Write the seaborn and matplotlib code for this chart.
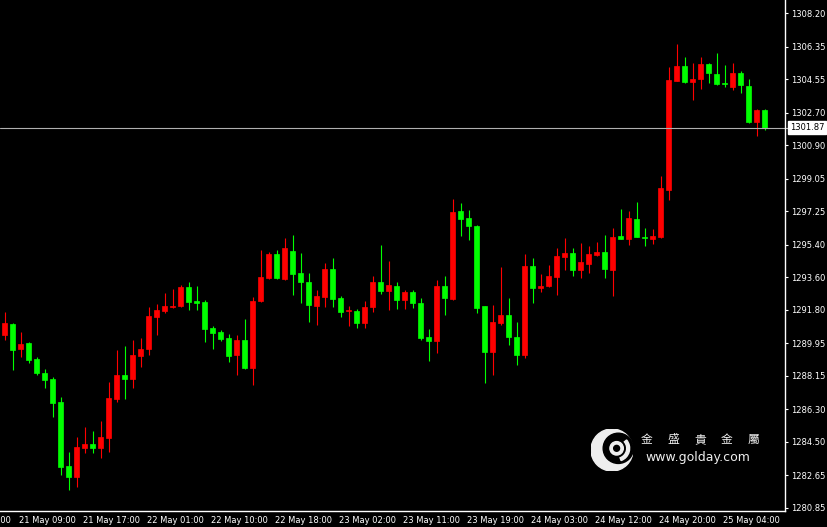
"""H1 gold candlestick chart, MT4 style (black background)."""

import matplotlib
matplotlib.use("Agg")
import matplotlib.pyplot as plt
import matplotlib.transforms as mtransforms
from matplotlib.patches import Circle, Wedge
import numpy as np
import seaborn as sns

# candle data, one entry per hourly bar (left to right)
opens = [1290.41, 1291.02, 1289.64, 1289.97, 1289.09, 1288.31, 1287.98, 1286.71,
         1283.17, 1282.57, 1284.17, 1284.39, 1284.17, 1284.72, 1286.88, 1288.20,
         1287.98, 1289.25, 1289.64, 1291.41, 1291.74, 1291.96, 1292.01, 1293.06,
         1292.29, 1292.23, 1290.80, 1290.58, 1290.25, 1289.31, 1290.14, 1288.59,
         1292.29, 1293.56, 1294.89, 1293.51, 1295.05, 1293.84, 1293.34, 1292.01,
         1292.51, 1294.06, 1292.46, 1291.74, 1291.74, 1291.07, 1291.96, 1293.34,
         1292.84, 1293.12, 1292.35, 1292.79, 1292.18, 1290.30, 1290.08, 1293.12,
         1292.40, 1297.26, 1296.88, 1296.43, 1292.01, 1289.47, 1291.07, 1291.52,
         1290.30, 1289.31, 1294.22, 1293.01, 1293.12, 1293.62, 1294.72, 1294.94,
         1294.00, 1294.33, 1294.83, 1295.00, 1294.00, 1295.88, 1295.72, 1296.82,
         1295.83, 1295.72, 1295.83, 1298.42, 1304.45, 1305.27, 1304.39, 1304.56,
         1305.38, 1304.83, 1304.33, 1304.11, 1304.89, 1304.17, 1302.18, 1302.84]
highs = [1291.68, 1291.07, 1290.58, 1290.02, 1289.20, 1288.53, 1288.09, 1286.99,
         1283.95, 1284.78, 1285.33, 1285.11, 1285.66, 1287.81, 1289.58, 1289.80,
         1290.14, 1290.25, 1291.96, 1292.12, 1292.73, 1292.95, 1293.17, 1293.34,
         1293.12, 1292.35, 1290.91, 1290.69, 1290.47, 1290.41, 1291.30, 1292.51,
         1295.11, 1295.00, 1295.11, 1295.77, 1295.94, 1294.94, 1293.84, 1292.90,
         1294.39, 1294.67, 1292.57, 1292.01, 1291.85, 1292.29, 1293.67, 1295.38,
         1294.50, 1293.34, 1292.90, 1292.90, 1292.46, 1290.74, 1293.45, 1293.67,
         1297.93, 1297.70, 1297.32, 1296.49, 1292.01, 1292.07, 1294.17, 1292.46,
         1291.13, 1294.89, 1294.67, 1293.78, 1294.28, 1295.22, 1295.77, 1295.22,
         1295.49, 1295.33, 1295.55, 1295.94, 1296.32, 1297.37, 1297.26, 1297.76,
         1296.32, 1296.27, 1299.20, 1305.22, 1306.49, 1305.77, 1305.44, 1305.77,
         1305.44, 1305.99, 1305.33, 1305.44, 1305.00, 1304.56, 1302.87, 1302.87]
lows = [1290.14, 1288.48, 1289.20, 1288.86, 1288.20, 1287.48, 1285.88, 1282.68,
        1281.85, 1282.01, 1283.89, 1283.89, 1283.62, 1283.95, 1286.71, 1286.88,
        1287.48, 1288.64, 1289.31, 1290.41, 1291.63, 1291.90, 1291.96, 1291.79,
        1291.79, 1290.02, 1289.64, 1290.08, 1288.92, 1288.20, 1288.55, 1287.65,
        1292.25, 1293.51, 1293.51, 1293.45, 1292.62, 1292.18, 1291.13, 1290.96,
        1291.96, 1291.96, 1291.41, 1290.91, 1290.80, 1290.80, 1291.68, 1292.68,
        1291.79, 1291.85, 1291.85, 1291.90, 1290.14, 1288.98, 1289.42, 1291.52,
        1292.35, 1295.88, 1295.66, 1291.63, 1287.76, 1288.20, 1290.96, 1289.86,
        1288.75, 1289.14, 1292.18, 1292.79, 1293.08, 1292.62, 1294.00, 1293.67,
        1293.56, 1293.84, 1294.80, 1293.56, 1292.57, 1295.70, 1295.38, 1295.80,
        1295.33, 1295.44, 1295.77, 1297.87, 1304.42, 1304.36, 1303.40, 1304.00,
        1304.33, 1304.22, 1304.11, 1303.95, 1303.78, 1302.15, 1301.41, 1301.75]
closes = [1291.07, 1289.58, 1289.91, 1289.03, 1288.31, 1287.93, 1286.65, 1283.12,
          1282.57, 1284.22, 1284.39, 1284.17, 1284.78, 1286.93, 1288.20, 1287.98,
          1289.31, 1289.64, 1291.46, 1291.79, 1292.01, 1292.01, 1293.06, 1292.23,
          1292.18, 1290.74, 1290.52, 1290.19, 1289.25, 1290.14, 1288.59, 1292.29,
          1293.62, 1294.89, 1293.56, 1295.22, 1293.78, 1293.34, 1292.07, 1292.57,
          1294.06, 1292.40, 1291.68, 1291.79, 1291.07, 1291.96, 1293.34, 1292.84,
          1293.17, 1292.35, 1292.79, 1292.18, 1290.25, 1290.08, 1293.12, 1292.46,
          1297.21, 1296.82, 1296.43, 1291.90, 1289.47, 1291.13, 1291.52, 1290.30,
          1289.31, 1294.22, 1293.01, 1293.12, 1293.67, 1294.78, 1294.94, 1294.00,
          1294.44, 1294.89, 1295.00, 1294.06, 1295.83, 1295.72, 1296.88, 1295.83,
          1295.77, 1295.88, 1298.53, 1304.50, 1305.27, 1304.39, 1304.56, 1305.38,
          1304.89, 1304.28, 1304.28, 1304.89, 1304.22, 1302.18, 1302.84, 1301.87]

last_price = 1301.87

# price axis labels
price_ticks = [1308.20, 1306.35, 1304.55, 1302.70, 1300.90, 1299.05, 1297.25, 1295.40,
               1293.60, 1291.80, 1289.95, 1288.15, 1286.30, 1284.50, 1282.65, 1280.85]

# time axis labels (bar index of each label)
time_idx = [-6, 2, 10, 18, 26, 34, 42, 50, 58, 66, 74, 82, 90]
time_labels = ["21 May 01:00", "21 May 09:00", "21 May 17:00", "22 May 01:00",
               "22 May 10:00", "22 May 18:00", "23 May 02:00", "23 May 11:00",
               "23 May 19:00", "24 May 03:00", "24 May 12:00", "24 May 20:00",
               "25 May 04:00"]

logo_chars = ["金", "盛", "貴", "金", "屬"]

sns.set_theme(style="dark", rc={
    "axes.facecolor": "black",
    "figure.facecolor": "black",
    "axes.edgecolor": "white",
    "text.color": "white",
    "xtick.color": "white",
    "ytick.color": "white",
})
plt.rcParams["font.family"] = ["DejaVu Sans", "Noto Sans CJK TC"]

W, H = 828, 527
fig = plt.figure(figsize=(W / 100, H / 100), dpi=100)
ax = fig.add_axes([0, 16 / H, 785 / W, 511 / H])

o = np.array(opens)
c = np.array(closes)
x = np.arange(len(o))
up = c >= o
cols = np.where(up, "#FF0000", "#00FF00")

# wicks then bodies
ax.vlines(x, lows, highs, colors=cols, linewidth=0.8)
ax.bar(x, np.abs(c - o), bottom=np.minimum(o, c), width=0.6,
       color=cols, edgecolor=cols, linewidth=0.5)

ax.set_xlim(-0.5625, 97.56)
ax.set_ylim(1280.68, 1308.92)

for s in ["left", "top"]:
    ax.spines[s].set_visible(False)
for s in ["right", "bottom"]:
    ax.spines[s].set_color("white")
    ax.spines[s].set_linewidth(1)

ax.yaxis.tick_right()
ax.set_yticks(price_ticks)
ax.set_yticklabels([f"{p:.2f}" for p in price_ticks])
ax.tick_params(axis="y", length=2.5, width=0.8, pad=2, labelsize=6, colors="white")

ax.set_xticks([i for i in time_idx if i >= 0])
ax.set_xticklabels([])
ax.tick_params(axis="x", length=2.5, width=0.8, colors="white")
for i, lab in zip(time_idx, time_labels):
    ax.text(i - 0.25, -0.009, lab, transform=ax.get_xaxis_transform(),
            ha="left", va="top", fontsize=6, color="white", clip_on=False)

ax.grid(False)

# current price line and box
ax.axhline(last_price, xmin=0, xmax=1.006, color="#B0B0B0", linewidth=0.8, clip_on=False)
trans = mtransforms.blended_transform_factory(ax.transAxes, ax.transData)
ax.text(1.006, last_price, f"{last_price:.2f}", transform=trans, ha="left", va="center",
        fontsize=6, color="black", clip_on=False,
        bbox=dict(boxstyle="square,pad=0.2", fc="white", ec="white"))

# watermark logo
lax = fig.add_axes([591 / W, (H - 471) / H, 42 / W, 42 / H])
lax.set_xlim(-1, 1)
lax.set_ylim(-1, 1)
lax.set_aspect("equal")
lax.axis("off")
wm = "#EEEEEE"
lax.add_patch(Circle((0, 0), 1.0, color=wm))
lax.add_patch(Circle((0.3, 0.08), 0.72, color="black"))
lax.add_patch(Wedge((0.22, 0.08), 0.62, -70, 40, width=0.14, color=wm))
lax.add_patch(Circle((0.22, 0.08), 0.32, color=wm))
lax.add_patch(Circle((0.22, 0.08), 0.14, color="black"))

for k, ch in enumerate(logo_chars):
    fig.text((647 + 26.5 * k) / W, 1 - 439.5 / H, ch, ha="center", va="center",
             fontsize=8.5, color=wm, family=["Noto Sans CJK TC", "DejaVu Sans"])
fig.text(698 / W, 1 - 457 / H, "www.golday.com", ha="center", va="center",
         fontsize=9, color=wm)

fig.savefig("out.png", dpi=100, facecolor="black")
